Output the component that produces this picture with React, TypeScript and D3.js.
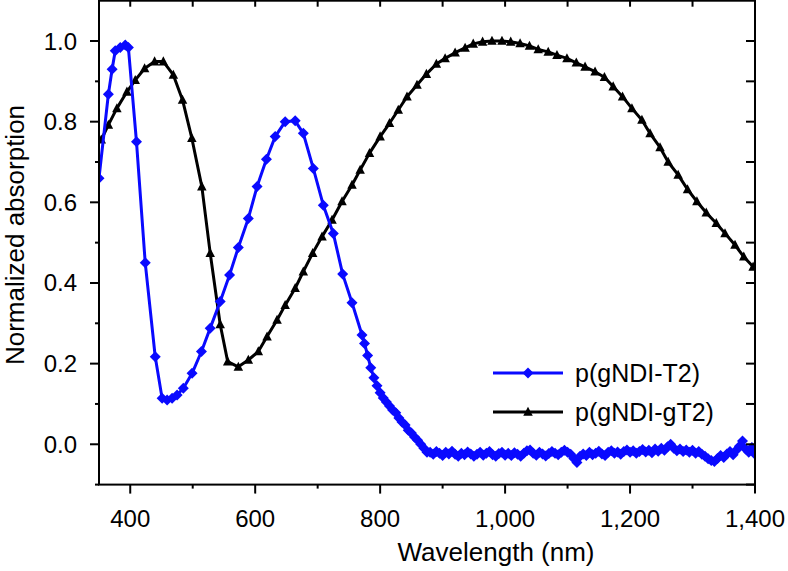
import React from "react";
import * as d3 from "d3";

const blueX = [350, 365, 371, 376, 384, 392, 397, 410, 424, 440, 451, 459, 467, 475, 485, 499, 514, 528, 544, 559, 573, 589, 603, 618, 632, 648, 664, 677, 693, 709, 725, 740, 755, 771,
  775, 780, 785, 790, 795, 800, 805, 810, 815, 820, 825, 830, 835, 840, 845, 850, 855, 860, 865, 870, 875,
  880, 885, 890, 895, 900, 905, 910, 915, 920, 925, 930, 935, 940, 945, 950, 955, 960, 965, 970, 975, 980, 985, 990, 995,
  1000, 1005, 1010, 1015, 1020, 1025, 1030, 1035, 1040, 1045, 1050, 1055, 1060, 1065, 1070, 1075, 1080, 1085, 1090, 1095,
  1100, 1105, 1110, 1115, 1120, 1125, 1130, 1135, 1140, 1145, 1150, 1155, 1160, 1165, 1170, 1175, 1180, 1185, 1190, 1195,
  1200, 1205, 1210, 1215, 1220, 1225, 1230, 1235, 1240, 1245, 1250, 1255, 1260, 1265, 1270, 1275, 1280, 1285, 1290, 1295,
  1300, 1305, 1310, 1315, 1320, 1325, 1330, 1335, 1340, 1345, 1350, 1355, 1360, 1365, 1370, 1375, 1380, 1385, 1390, 1395, 1400];
const blueY = [0.66, 0.868, 0.93, 0.976, 0.984, 0.99, 0.984, 0.75, 0.45, 0.217, 0.114, 0.11, 0.114, 0.122, 0.139, 0.176, 0.23, 0.288, 0.354, 0.42, 0.488, 0.56, 0.639, 0.707, 0.763, 0.8, 0.802, 0.771, 0.684, 0.593, 0.523, 0.422, 0.351, 0.271,
  0.25, 0.22, 0.19, 0.165, 0.145, 0.128, 0.115, 0.105, 0.095, 0.085, 0.078, 0.065, 0.055, 0.048, 0.035, 0.028, 0.018, 0.01, 0.0, -0.01, -0.02,
  -0.02, -0.025, -0.018, -0.022, -0.028, -0.02, -0.024, -0.017, -0.025, -0.03, -0.022, -0.026, -0.019, -0.024, -0.03, -0.025, -0.02, -0.027, -0.022, -0.018, -0.026, -0.03, -0.023, -0.02,
  -0.027, -0.022, -0.028, -0.021, -0.025, -0.03, -0.022, -0.016, -0.014, -0.022, -0.027, -0.02, -0.024, -0.029, -0.023, -0.018, -0.022, -0.026, -0.02, -0.015,
  -0.02, -0.025, -0.035, -0.045, -0.03, -0.024, -0.028, -0.02, -0.026, -0.022, -0.017, -0.024, -0.028, -0.02, -0.016, -0.022, -0.019, -0.025, -0.018, -0.014,
  -0.02, -0.016, -0.022, -0.018, -0.013, -0.019, -0.015, -0.021, -0.012, -0.017, -0.01, -0.015, -0.006, 0.0, -0.01, -0.016, -0.012, -0.018, -0.014, -0.02,
  -0.015, -0.022, -0.018, -0.025, -0.03, -0.036, -0.04, -0.043, -0.035, -0.028, -0.033, -0.024, -0.018, -0.026, -0.015, -0.005, 0.008, -0.012, -0.02, -0.008, -0.025];

const blackX = [353.6, 365, 378.6, 394.7, 408, 423, 439, 453, 469, 483.7, 498.6, 514.6, 528, 544, 556, 573, 589, 605, 619, 635, 648, 664, 677, 692, 707, 723, 739, 755, 768, 783,
  800, 815, 829, 843, 859, 874, 890, 904, 920, 936, 949, 964, 979, 995, 1009, 1024, 1039, 1053, 1069, 1083, 1099, 1114, 1128, 1144, 1159, 1173, 1188, 1203, 1219, 1232,
  1248, 1261, 1277, 1292, 1307, 1322, 1338, 1352, 1368, 1382, 1397];
const blackY = [0.755, 0.792, 0.833, 0.874, 0.903, 0.932, 0.949, 0.949, 0.916, 0.854, 0.759, 0.639, 0.474, 0.297, 0.205, 0.192, 0.209, 0.23, 0.267, 0.308, 0.345, 0.387, 0.428, 0.474, 0.515, 0.556, 0.602, 0.643, 0.68, 0.722,
  0.763, 0.796, 0.829, 0.862, 0.891, 0.918, 0.943, 0.957, 0.971, 0.983, 0.993, 0.998, 1.0, 1.0, 0.998, 0.994, 0.988, 0.979, 0.973, 0.965, 0.957, 0.946, 0.936, 0.924, 0.91, 0.887, 0.862, 0.833, 0.804, 0.771,
  0.736, 0.7, 0.668, 0.632, 0.602, 0.574, 0.548, 0.523, 0.494, 0.465, 0.44];

const xMajorTicks = [400, 600, 800, 1000, 1200, 1400];
const xMinorTicks = [500, 700, 900, 1100, 1300];
const xTopTicks = [400, 500, 600, 700, 800, 900, 1000, 1100, 1200, 1300];
const yMajorTicks = [0.0, 0.2, 0.4, 0.6, 0.8, 1.0];
const yMinorTicks = [-0.1, 0.1, 0.3, 0.5, 0.7, 0.9];
const seriesNames = ["p(gNDI-T2)", "p(gNDI-gT2)"];
const xTitle = "Wavelength (nm)";
const yTitle = "Normalized absorption";

const W = 788, H = 571;
const L = 99, R = 755, T = 0.7, B = 484.6;
const FONT = "'Liberation Sans', Arial, Helvetica, sans-serif";
const BLUE = "#0a0aff";

export default function App() {
  const x = d3.scaleLinear().domain([350, 1400]).range([L, R]);
  const y = d3.scaleLinear().domain([-0.1, 1.1]).range([B, T]);
  const blue = blueX.map((v, i) => [v, blueY[i]] as [number, number]);
  const black = blackX.map((v, i) => [v, blackY[i]] as [number, number]);
  const line = d3.line<[number, number]>().x(d => x(d[0])).y(d => y(d[1]));
  const diamond = (cx: number, cy: number, r = 5.5) => `M${cx},${cy - r}L${cx + r},${cy}L${cx},${cy + r}L${cx - r},${cy}Z`;
  const tri = (cx: number, cy: number, s = 9.5) => `M${cx},${cy - s * 0.55}L${cx + s / 2},${cy + s * 0.4}L${cx - s / 2},${cy + s * 0.4}Z`;
  const allY = [...yMajorTicks, ...yMinorTicks];
  const fmtX = d3.format(",");
  const fmtY = d3.format(".1f");

  return (
    <svg width={W} height={H} style={{ position: "absolute", left: 0, top: 0, background: "#fff" }} fontFamily={FONT}>
      <defs>
        <clipPath id="plot"><rect x={L} y={T} width={R - L} height={B - T} /></clipPath>
      </defs>
      <g clipPath="url(#plot)">
        <path d={line(black) || ""} fill="none" stroke="#000" strokeWidth={3} strokeLinejoin="round" />
        {black.map((d, i) => <path key={"k" + i} d={tri(x(d[0]), y(d[1]))} fill="#000" />)}
        <path d={line(blue) || ""} fill="none" stroke={BLUE} strokeWidth={3} strokeLinejoin="round" />
        {blue.map((d, i) => <path key={"b" + i} d={diamond(x(d[0]), y(d[1]))} fill={BLUE} />)}
      </g>
      <rect x={L} y={T} width={R - L} height={B - T} fill="none" stroke="#000" strokeWidth={2} />
      {xMajorTicks.map(t => <line key={"xm" + t} x1={x(t)} x2={x(t)} y1={B} y2={B + 9} stroke="#000" strokeWidth={2} />)}
      {xMinorTicks.map(t => <line key={"xn" + t} x1={x(t)} x2={x(t)} y1={B} y2={B + 4} stroke="#000" strokeWidth={2} />)}
      {xTopTicks.map(t => <line key={"xt" + t} x1={x(t)} x2={x(t)} y1={T} y2={T + 6} stroke="#000" strokeWidth={2} />)}
      {yMajorTicks.map(t => <line key={"ym" + t} x1={L - 9} x2={L} y1={y(t)} y2={y(t)} stroke="#000" strokeWidth={2} />)}
      {yMinorTicks.map(t => <line key={"yn" + t} x1={L - 4} x2={L} y1={y(t)} y2={y(t)} stroke="#000" strokeWidth={2} />)}
      {allY.map(t => <line key={"yr" + t} x1={R - 9} x2={R} y1={y(t)} y2={y(t)} stroke="#000" strokeWidth={2} />)}
      {xMajorTicks.map(t => <text key={"xl" + t} x={x(t)} y={527} textAnchor="middle" fontSize={24} fill="#000">{fmtX(t)}</text>)}
      {yMajorTicks.map(t => <text key={"yl" + t} x={77} y={y(t) + 8.5} textAnchor="end" fontSize={24} fill="#000">{fmtY(t)}</text>)}
      <text x={496} y={561} textAnchor="middle" fontSize={26} fill="#000">{xTitle}</text>
      <text transform="translate(24,235) rotate(-90)" textAnchor="middle" fontSize={26} fill="#000">{yTitle}</text>
      <line x1={493} x2={563} y1={373} y2={373} stroke={BLUE} strokeWidth={3} />
      <path d={diamond(528, 373)} fill={BLUE} />
      <text x={575} y={382} fontSize={25} fill="#000">{seriesNames[0]}</text>
      <line x1={493} x2={563} y1={412} y2={412} stroke="#000" strokeWidth={3} />
      <path d={tri(528, 412)} fill="#000" />
      <text x={575} y={421} fontSize={25} fill="#000">{seriesNames[1]}</text>
    </svg>
  );
}
